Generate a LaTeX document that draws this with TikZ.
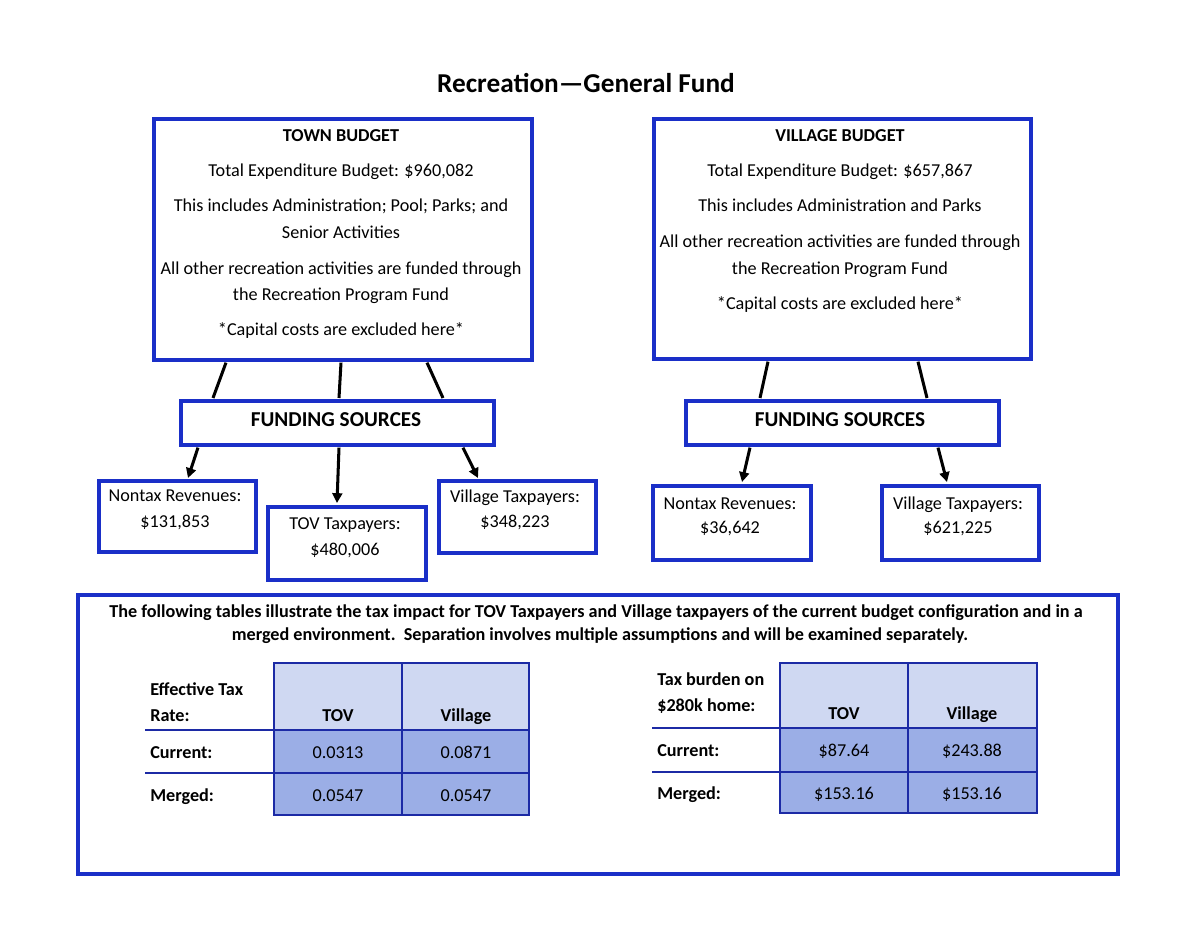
\documentclass[tikz,border=0pt]{standalone}
\usepackage{fontspec}
\setmainfont{Carlito}
\usetikzlibrary{calc,arrows.meta}
\definecolor{boxblue}{RGB}{26,47,200}
\definecolor{tblue}{RGB}{28,42,165}
\definecolor{hdr}{RGB}{207,216,242}
\definecolor{cellc}{RGB}{155,174,230}
\begin{document}
\begin{tikzpicture}[x=0.66pt,y=-0.66pt,
  box/.style={draw=boxblue, line width=2.4pt, fill=white, inner sep=0pt, anchor=north west},
  txt/.style={anchor=mid, inner sep=0pt, yshift=-1.6pt, font=\fontsize{12}{14}\selectfont},
  btxt/.style={anchor=mid, inner sep=0pt, yshift=-1.6pt, font=\fontsize{12}{14}\selectfont\bfseries},
  ltxt/.style={btxt, anchor=mid west},
  conn/.style={line width=2pt, black},
  arr/.style={conn, -{Triangle[length=6.5pt,width=6.5pt]}},
  tline/.style={draw=tblue, line width=1.5pt}]
\useasboundingbox (0,0) rectangle (1200,927);
\fill[white] (0,0) rectangle (1200,927);

% title
\node[anchor=mid, inner sep=0pt, yshift=-2pt, font=\fontsize{18}{21}\selectfont\bfseries] (title) at (586,86) {Recreation—General Fund};

% boxes
\newcommand{\pxbox}[6][]{\node[box,#1, minimum width={(#4-#2)*0.66pt}, minimum height={(#5-#3)*0.66pt}] (#6) at (#2,#3) {};}
\pxbox{152}{117}{530}{358}{town}
\pxbox{652}{117}{1029}{357}{vill}
\pxbox{179}{399}{492}{443}{tfs}
\pxbox{684}{399}{997}{443}{vfs}
\pxbox{97}{479}{254}{550}{tnon}
\pxbox{266}{505}{424}{578}{ttov}
\pxbox{437}{479}{594}{551}{tvil}
\pxbox{651}{484}{809}{558}{vnon}
\pxbox{880}{484}{1037}{558}{vvil}
\pxbox{76}{593}{1116}{872}{bottom}

% town box text
\node[btxt] (t1) at (341,135) {TOWN BUDGET};
\node[txt] (t2) at (341,170) {Total Expenditure Budget: \$960,082};
\node[txt] (t3) at (341,205) {This includes Administration; Pool; Parks; and};
\node[txt] (t4) at (341,232) {Senior Activities};
\node[txt] (t5) at (341,268) {All other recreation activities are funded through};
\node[txt] (t6) at (341,294) {the Recreation Program Fund};
\node[txt] (t7) at (341,329) {*Capital costs are excluded here*};

% village box text
\node[btxt] (v1) at (840,135) {VILLAGE BUDGET};
\node[txt] (v2) at (840,170) {Total Expenditure Budget: \$657,867};
\node[txt] (v3) at (840,205) {This includes Administration and Parks};
\node[txt] (v4) at (840,241) {All other recreation activities are funded through};
\node[txt] (v5) at (840,268) {the Recreation Program Fund};
\node[txt] (v6) at (840,303) {*Capital costs are excluded here*};

% funding sources
\node[anchor=mid, inner sep=0pt, yshift=-1.6pt, font=\fontsize{14}{17}\selectfont\bfseries] (tfst) at (336,420) {FUNDING SOURCES};
\node[anchor=mid, inner sep=0pt, yshift=-1.6pt, font=\fontsize{14}{17}\selectfont\bfseries] (vfst) at (840,420) {FUNDING SOURCES};

% small boxes text
\node[txt] (tn1) at (175,495) {Nontax Revenues:};
\node[txt] (tn2) at (175,521) {\$131,853};
\node[txt] (tt1) at (345,523) {TOV Taxpayers:};
\node[txt] (tt2) at (345,549) {\$480,006};
\node[txt] (tv1) at (515,496) {Village Taxpayers:};
\node[txt] (tv2) at (515,521) {\$348,223};
\node[txt] (vn1) at (730,503) {Nontax Revenues:};
\node[txt] (vn2) at (730,527) {\$36,642};
\node[txt] (vv1) at (958,503) {Village Taxpayers:};
\node[txt] (vv2) at (958,527) {\$621,225};

% connectors town
\draw[conn] ($(town.south west)+(74,1)$) -- ($(tfs.north west)+(34,-1)$);
\draw[conn] ($(town.south west)+(189,1)$) -- ($(tfs.north west)+(160,-1)$);
\draw[conn] ($(town.south west)+(275,1)$) -- ($(tfs.north west)+(264,-1)$);
\draw[arr] ($(tfs.south west)+(19,1)$) -- ($(tnon.north west)+(91,-1)$);
\draw[arr] ($(tfs.south west)+(160,1)$) -- ($(ttov.north west)+(71,-2)$);
\draw[arr] ($(tfs.south west)+(284,1)$) -- ($(tvil.north west)+(41,-1)$);

% connectors village
\draw[conn] ($(vill.south west)+(116,1)$) -- ($(vfs.north west)+(76,-1)$);
\draw[conn] ($(vill.south west)+(266,1)$) -- ($(vfs.north west)+(243,-1)$);
\draw[arr] ($(vfs.south west)+(66,1)$) -- ($(vnon.north west)+(91,-2)$);
\draw[arr] ($(vfs.south west)+(254,1)$) -- ($(vvil.north west)+(67,-2)$);

% bottom paragraph
\node[btxt] (p1) at (596,611) {The following tables illustrate the tax impact for TOV Taxpayers and Village taxpayers of the current budget configuration and in a};
\node[btxt] (p2) at (600,634) {merged environment.\ \ Separation involves multiple assumptions and will be examined separately.};

% table 1
\fill[hdr] (274,663) rectangle (529,730);
\fill[cellc] (274,730) rectangle (529,815);
\draw[tline] (274,663) rectangle (529,815);
\draw[tline] (402,663) -- (402,815);
\draw[tline] (145,730) -- (529,730);
\draw[tline] (145,773) -- (529,773);
\node[ltxt] (a1) at (150,689) {Effective Tax};
\node[ltxt] (a2) at (150,715) {Rate:};
\node[ltxt] (a3) at (150,752) {Current:};
\node[ltxt] (a4) at (150,795) {Merged:};
\node[btxt] (a5) at (338,715) {TOV};
\node[btxt] (a6) at (466,715) {Village};
\node[txt] (a7) at (338,752) {0.0313};
\node[txt] (a8) at (466,752) {0.0871};
\node[txt] (a9) at (338,795) {0.0547};
\node[txt] (a10) at (466,795) {0.0547};

% table 2
\fill[hdr] (780,663) rectangle (1037,728);
\fill[cellc] (780,728) rectangle (1037,813);
\draw[tline] (780,663) rectangle (1037,813);
\draw[tline] (908,663) -- (908,813);
\draw[tline] (652,728) -- (1037,728);
\draw[tline] (652,772) -- (1037,772);
\node[ltxt] (b1) at (657,679) {Tax burden on};
\node[ltxt] (b2) at (657,705) {\$280k home:};
\node[ltxt] (b3) at (657,750) {Current:};
\node[ltxt] (b4) at (657,793) {Merged:};
\node[btxt] (b5) at (844,713) {TOV};
\node[btxt] (b6) at (972,713) {Village};
\node[txt] (b7) at (844,750) {\$87.64};
\node[txt] (b8) at (972,750) {\$243.88};
\node[txt] (b9) at (844,793) {\$153.16};
\node[txt] (b10) at (972,793) {\$153.16};
\end{tikzpicture}
\end{document}
